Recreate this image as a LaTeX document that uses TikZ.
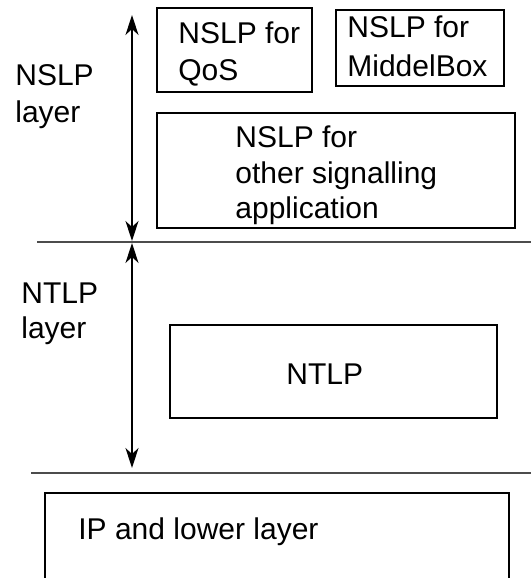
\documentclass[tikz,border=0pt]{standalone}
\usepackage{fontspec}
\setmainfont{Liberation Sans}
\usetikzlibrary{arrows.meta}
\begin{document}
\begin{tikzpicture}[x=0.5pt,y=-0.5pt,
  box/.style={draw=black,line width=0.75pt},
  lbl/.style={anchor=base west,inner sep=0pt,font=\fontsize{15pt}{18pt}\selectfont},
  sep/.style={draw=black!70,line width=0.6pt},
  dim/.style={draw=black,line width=0.75pt,{Stealth[length=10pt,width=6.5pt,inset=3pt]}-{Stealth[length=10pt,width=6.5pt,inset=3pt]}}]
\useasboundingbox (0,0) rectangle (531,578);
\clip (0,0) rectangle (531,578);
% boxes
\draw[box] (157,8) rectangle (312,92);
\draw[box] (336,10) rectangle (504,86);
\draw[box] (157,113) rectangle (515,228);
\draw[box] (170,325) rectangle (497,418);
\draw[box] (45,493) rectangle (509,600);
% texts
\node[lbl] (l1a) at (15,85) {NSLP};
\node[lbl] (l1b) at (15,122) {layer};
\node[lbl] (l2a) at (21,303) {NTLP};
\node[lbl] (l2b) at (21,338) {layer};
\node[lbl] (qa) at (178,43) {NSLP for};
\node[lbl] (qb) at (178,80) {QoS};
\node[lbl] (ma) at (347,37) {NSLP for};
\node[lbl] (mb) at (347,76) {MiddelBox};
\node[lbl] (oa) at (235,147) {NSLP for};
\node[lbl] (ob) at (235,183) {other signalling};
\node[lbl] (oc) at (235,218) {application};
\node[lbl] (nt) at (286,384) {NTLP};
\node[lbl] (ip) at (78,539) {IP and lower layer};
% separators
\coordinate (s1a) at (37,242); \coordinate (s1b) at (531,242);
\coordinate (s2a) at (31,473); \coordinate (s2b) at (531,473);
\draw[sep] (s1a) -- (s1b);
\draw[sep] (s2a) -- (s2b);
% dimension arrows
\coordinate (a1) at (132,15); \coordinate (a2) at (132,241);
\coordinate (a3) at (132,243); \coordinate (a4) at (132,468);
\draw[dim] (a1) -- (a2);
\draw[dim] (a3) -- (a4);
\end{tikzpicture}
\end{document}
